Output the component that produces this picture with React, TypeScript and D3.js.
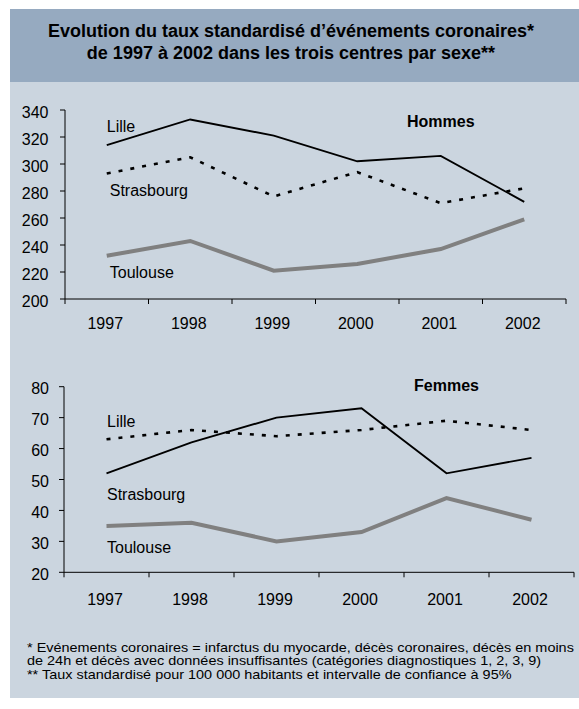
import React from 'react';
import * as d3 from 'd3';

const years = ['1997', '1998', '1999', '2000', '2001', '2002'];

const hommesLille = [314, 333, 321, 302, 306, 272];
const hommesStrasbourg = [293, 305, 276, 294, 271, 282];
const hommesToulouse = [232, 243, 221, 226, 237, 259];

const femmesLille = [52, 62, 70, 73, 52, 57];
const femmesStrasbourg = [63, 66, 64, 66, 69, 66];
const femmesToulouse = [35, 36, 30, 33, 44, 37];

const hommesTicks = [200, 220, 240, 260, 280, 300, 320, 340];
const femmesTicks = [20, 30, 40, 50, 60, 70, 80];

// label anchor values (data space) for the in-chart names
const hommesLabelValues = [324, 276, 215.5];
const femmesLabelValues = [67, 43.4, 26.3];
const cityNames = ['Lille', 'Strasbourg', 'Toulouse'];

const titleLines = [
  'Evolution du taux standardisé d\u2019événements coronaires*',
  'de 1997 à 2002 dans les trois centres par sexe**',
];
const footnotes = [
  '* Evénements coronaires = infarctus du myocarde, décès coronaires, décès en moins',
  'de 24h et décès avec données insuffisantes (catégories diagnostiques 1, 2, 3, 9)',
  '** Taux standardisé pour 100 000 habitants et intervalle de confiance à 95%',
];

const FONT = 'Liberation Sans, Arial, sans-serif';

type ChartProps = {
  x0: number; x1: number; yTop: number; yBottom: number;
  domain: [number, number]; ticks: number[]; tickGap: number;
  series: number[][]; labelValues: number[]; labelDx: number[];
  sexLabel: string; sexX: number; sexValue: number; xLabelY: number;
};

const styles = [
  { stroke: '#000', width: 1.9, dash: undefined as string | undefined },
  { stroke: '#000', width: 2.6, dash: '4,8' },
  { stroke: '#808080', width: 4, dash: undefined as string | undefined },
];

function Chart(p: ChartProps) {
  const x = d3.scaleBand<string>().domain(years).range([p.x0, p.x1]).padding(0);
  const y = d3.scaleLinear().domain(p.domain).range([p.yBottom, p.yTop]);
  const cx = (yr: string) => (x(yr) as number) + x.bandwidth() / 2;
  const line = d3.line<number>().x((_, i) => cx(years[i])).y((v) => y(v));
  const bounds = years.map((yr) => x(yr) as number).concat([p.x1]);
  return (
    <g>
      {p.series.map((s, i) => (
        <path key={i} d={line(s) || ''} fill="none" stroke={styles[i].stroke}
          strokeWidth={styles[i].width} strokeDasharray={styles[i].dash}
          strokeLinejoin="miter" />
      ))}
      <line x1={p.x0} x2={p.x0} y1={y(p.domain[1])} y2={y(p.domain[0])} stroke="#000" strokeWidth={1} />
      {p.ticks.map((t) => (
        <g key={t}>
          <line x1={p.x0 - 5} x2={p.x0} y1={y(t)} y2={y(t)} stroke="#000" strokeWidth={1} />
          <text x={p.x0 - p.tickGap} y={y(t) + 2} dy="0.35em" textAnchor="end" fontSize={16} fontFamily={FONT} fill="#000">{t}</text>
        </g>
      ))}
      <line x1={p.x0} x2={p.x1} y1={p.yBottom} y2={p.yBottom} stroke="#000" strokeWidth={1} />
      {bounds.map((b, i) => (
        <line key={i} x1={b} x2={b} y1={p.yBottom} y2={p.yBottom + 5} stroke="#000" strokeWidth={1} />
      ))}
      {years.map((yr) => (
        <text key={yr} x={cx(yr) - 1.5} y={p.xLabelY} textAnchor="middle" fontSize={16} fontFamily={FONT} fill="#000">{yr}</text>
      ))}
      {cityNames.map((n, i) => (
        <text key={n} x={cx(years[0]) + p.labelDx[i]} y={y(p.labelValues[i])} fontSize={16} fontFamily={FONT} fill="#000">{n}</text>
      ))}
      <text x={p.sexX} y={y(p.sexValue)} fontSize={16} fontWeight="bold" fontFamily={FONT} fill="#000">{p.sexLabel}</text>
    </g>
  );
}

export default function App() {
  return (
    <svg width={579} height={709} style={{ position: 'absolute', left: 0, top: 0 }}>
      <rect x={0} y={0} width={579} height={709} fill="#fff" />
      <rect x={10} y={9} width={580} height={689} fill="#cbd5df" />
      <rect x={10} y={9} width={580} height={73} fill="#96aac0" />
      {titleLines.map((t, i) => (
        <text key={i} x={291} y={37 + i * 21.5} textAnchor="middle" fontSize={18} fontWeight="bold" fontFamily={FONT} fill="#000">{t}</text>
      ))}
      <Chart x0={65} x1={566} yTop={110} yBottom={299} domain={[200, 340]} ticks={hommesTicks} tickGap={16.5}
        series={[hommesLille, hommesStrasbourg, hommesToulouse]} labelValues={hommesLabelValues}
        labelDx={[0, 3, 3]} sexLabel="Hommes" sexX={407} sexValue={327.5} xLabelY={329} />
      <Chart x0={64} x1={574} yTop={386.7} yBottom={572.3} domain={[20, 80]} ticks={femmesTicks} tickGap={15}
        series={[femmesLille, femmesStrasbourg, femmesToulouse]} labelValues={femmesLabelValues}
        labelDx={[0.5, 0.5, 0.5]} sexLabel="Femmes" sexX={414} sexValue={78.7} xLabelY={605} />
      {footnotes.map((f, i) => (
        <g key={i} transform={`translate(27, ${652 + i * 13.4}) scale(1.205, 1)`}>
          <text x={0} y={0} fontSize={12} fontFamily={FONT} fill="#000">{f}</text>
        </g>
      ))}
    </svg>
  );
}
